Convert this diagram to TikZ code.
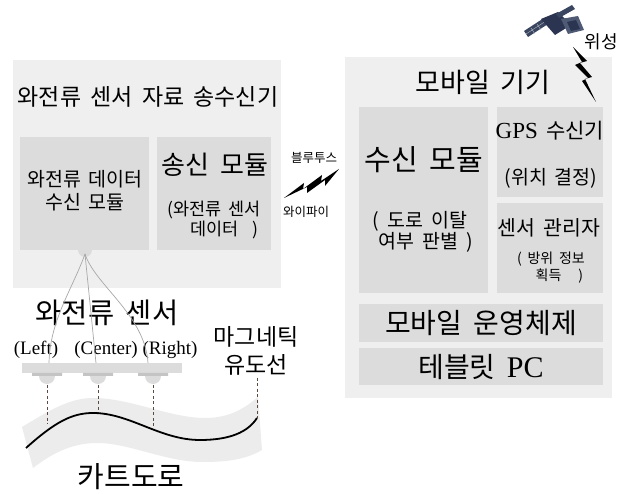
\documentclass[tikz,border=0pt]{standalone}
\usepackage{fontspec}
\setmainfont[WordSpace=1.8]{Noto Sans CJK KR}
\newfontfamily\lat{Liberation Serif}
\newcommand\fsz[2]{\fontsize{#1}{#2}\selectfont}
\definecolor{outerc}{HTML}{EFEFEF}
\definecolor{innerc}{HTML}{DCDCDC}
\definecolor{stripc}{HTML}{C4C4C4}
\definecolor{roadc}{HTML}{ECECEC}
\definecolor{dashc}{HTML}{5A4A42}
\definecolor{wirec}{HTML}{A8A8A8}
\definecolor{satdark}{HTML}{2B3450}
\definecolor{satmid}{HTML}{4F5A74}
\definecolor{satpanel}{HTML}{3A4660}
\begin{document}
\begin{tikzpicture}[x=1pt,y=-1pt,
  outerbox/.style={fill=outerc,draw=none,inner sep=0pt},
  innerbox/.style={fill=innerc,draw=none,inner sep=0pt},
  txt/.style={inner sep=0pt,align=center,text=black},
  wire/.style={draw=wirec,line width=0.7pt},
  guide/.style={draw=dashc,line width=0.7pt,dash pattern=on 3pt off 2.5pt},
  bolt/.style={fill=black,draw=none}]
\useasboundingbox[fill=white] (0,0) rectangle (625,494);

% ---------- eddy-current transceiver ----------
\node[outerbox,minimum width=268pt,minimum height=228pt] (lbox) at (147,174) {};
\fill[innerc] (85,250) circle (7);
\coordinate (hub) at (85,254);
\node[innerbox,minimum width=129pt,minimum height=113pt] (rxmod) at (84.5,193.5) {};
\node[innerbox,minimum width=114pt,minimum height=113pt] (txmod) at (214,193.5) {};
\node[txt,font=\fsz{23}{26}] (ltitle) at (148,97) {와전류 센서 자료 송수신기};
\node[txt,font=\fsz{19.5}{23}] (rxtext) at (85,191) {와전류 데이터\\수신 모듈};
\node[txt,font=\fsz{26}{28}] (txtitle) at (215,165) {송신 모듈};
\node[txt,font=\fsz{17.5}{20}] (txsub) at (214,220) {(와전류 센서\\\hspace*{1.2em}데이터\ \ )};

% ---------- mobile device ----------
\node[outerbox,minimum width=267pt,minimum height=341pt] (mob) at (478.5,227.5) {};
\node[innerbox,minimum width=129pt,minimum height=186pt] (recv) at (423.5,200) {};
\node[innerbox,minimum width=106pt,minimum height=90pt] (gps) at (550,152) {};
\node[innerbox,minimum width=106pt,minimum height=90pt] (smgr) at (550,248) {};
\node[innerbox,minimum width=244pt,minimum height=38pt] (os) at (481,323) {};
\node[innerbox,minimum width=244pt,minimum height=37pt] (pc) at (481,366.5) {};
\node[txt,font=\fsz{27}{30}] (mtitle) at (483,82) {모바일 기기};
\node[txt,font=\fsz{29}{32}] (recvtitle) at (424,160) {수신 모듈};
\node[txt,font=\fsz{19.5}{21}] (recvsub) at (420,232) {( 도로 이탈\\\hspace*{0.6em}여부 판별 )};
\node[txt,font=\fsz{21}{24}] (gpstitle) at (550,131) {{\lat\fsz{23}{24}GPS} 수신기};
\node[txt,font=\fsz{19.5}{22}] (gpssub) at (551,178) {(위치 결정)};
\node[txt,font=\fsz{20.5}{23}] (smgrtitle) at (549,228) {센서 관리자};
\node[txt,font=\fsz{14}{17}] (smgrsub) at (551,268) {( 방위 정보\\\hspace*{1.2em}획득\ \ \ )};
\node[txt,font=\fsz{28}{30}] (ostext) at (481,323) {모바일 운영체제};
\node[txt,font=\fsz{28}{30}] (pctext) at (481,367) {테블릿 {\lat\fsz{30}{30}PC}};

% ---------- wireless links ----------
\node[txt,font=\fsz{12.5}{14}] (bt) at (314,158) {블루투스};
\node[txt,font=\fsz{12.5}{14}] (wifi) at (306,212) {와이파이};
\fill[bolt] (284,198) -- (304,183) -- (303,189) -- (322,175) -- (321,181) -- (339,169)
  -- (325,186) -- (325,180) -- (307,193) -- (307,187) -- cycle;
\node[txt,font=\fsz{18}{20}] (sattext) at (601,42) {위성};
\fill[bolt] (573,47) -- (587,61) -- (580,63) -- (592,77) -- (585,79) -- (596,102)
  -- (582,81) -- (588,78) -- (575,65) -- (582,62) -- cycle;

% satellite
\fill[satpanel] (524,31) -- (544,18) -- (548,24) -- (528,37) -- cycle;
\draw[white!70!satpanel,line width=0.3pt] (526,34) -- (546,21) (531,28) -- (535,34) (537,24) -- (541,30);
\fill[satdark] (541,19) -- (558,12) -- (571,25) -- (555,35) -- cycle;
\fill[satmid] (561,19) -- (578,16) -- (584,30) -- (568,34) -- cycle;
\fill[satdark] (567,22) -- (576,20) -- (580,29) -- (571,31) -- cycle;
\fill[satpanel] (556,14) -- (572,5) -- (575,9) -- (559,18) -- cycle;

% ---------- sensor bar and road ----------
\node[txt,font=\fsz{28.5}{30}] (senslabel) at (107,313) {와전류 센서};
\node[txt,font=\lat\fsz{19}{20}] (lleft) at (36,350) {(Left)};
\node[txt,font=\lat\fsz{19}{20}] (lcenter) at (106,350) {(Center)};
\node[txt,font=\lat\fsz{19}{20}] (lright) at (170,350) {(Right)};
\node[txt,font=\fsz{23}{28}] (mag) at (256,351) {마그네틱\\유도선};
\node[txt,font=\fsz{29}{30}] (cart) at (131,477) {카트도로};

\fill[roadc] (22,427) .. controls (50,410) and (70,398) .. (93,398)
  .. controls (130,398) and (170,418) .. (205,418)
  .. controls (230,418) and (245,408) .. (258,397)
  -- (262,450) .. controls (245,460) and (225,462) .. (203,462)
  .. controls (165,462) and (130,443) .. (97,443)
  .. controls (70,443) and (50,455) .. (33,468) -- cycle;

\fill[innerc] (47,376) circle (8) (98,376) circle (8) (153,376) circle (8);
\node[innerbox,minimum width=160pt,minimum height=10pt] (bar) at (102,368) {};
\fill[stripc] (32,373) rectangle (62,376) (83,373) rectangle (113,376) (138,373) rectangle (168,376);

\coordinate (sL) at (49,363);
\coordinate (sC) at (96,363);
\coordinate (sR) at (148,363);
\draw[wire] (hub) .. controls (72,290) and (50,320) .. (sL);
\draw[wire] (hub) -- (sC);
\draw[wire] (hub) .. controls (95,285) and (145,315) .. (sR);

\coordinate (dL) at (47,385);
\coordinate (dC) at (98,385);
\coordinate (dR) at (153,385);
\coordinate (rL) at (47,424);
\coordinate (rC) at (98,413);
\coordinate (rR) at (153,428);
\coordinate (rM) at (257,418);
\draw[guide] (dL) -- (rL);
\draw[guide] (dC) -- (rC);
\draw[guide] (dR) -- (rR);
\draw[guide] (mag.south -| rM) ++(0,2) -- (rM);

\draw[line width=1.8pt] (26,448) .. controls (55,422) and (72,413) .. (93,413)
  .. controls (130,413) and (160,440) .. (200,440)
  .. controls (230,440) and (248,432) .. (rM);
\end{tikzpicture}
\end{document}
